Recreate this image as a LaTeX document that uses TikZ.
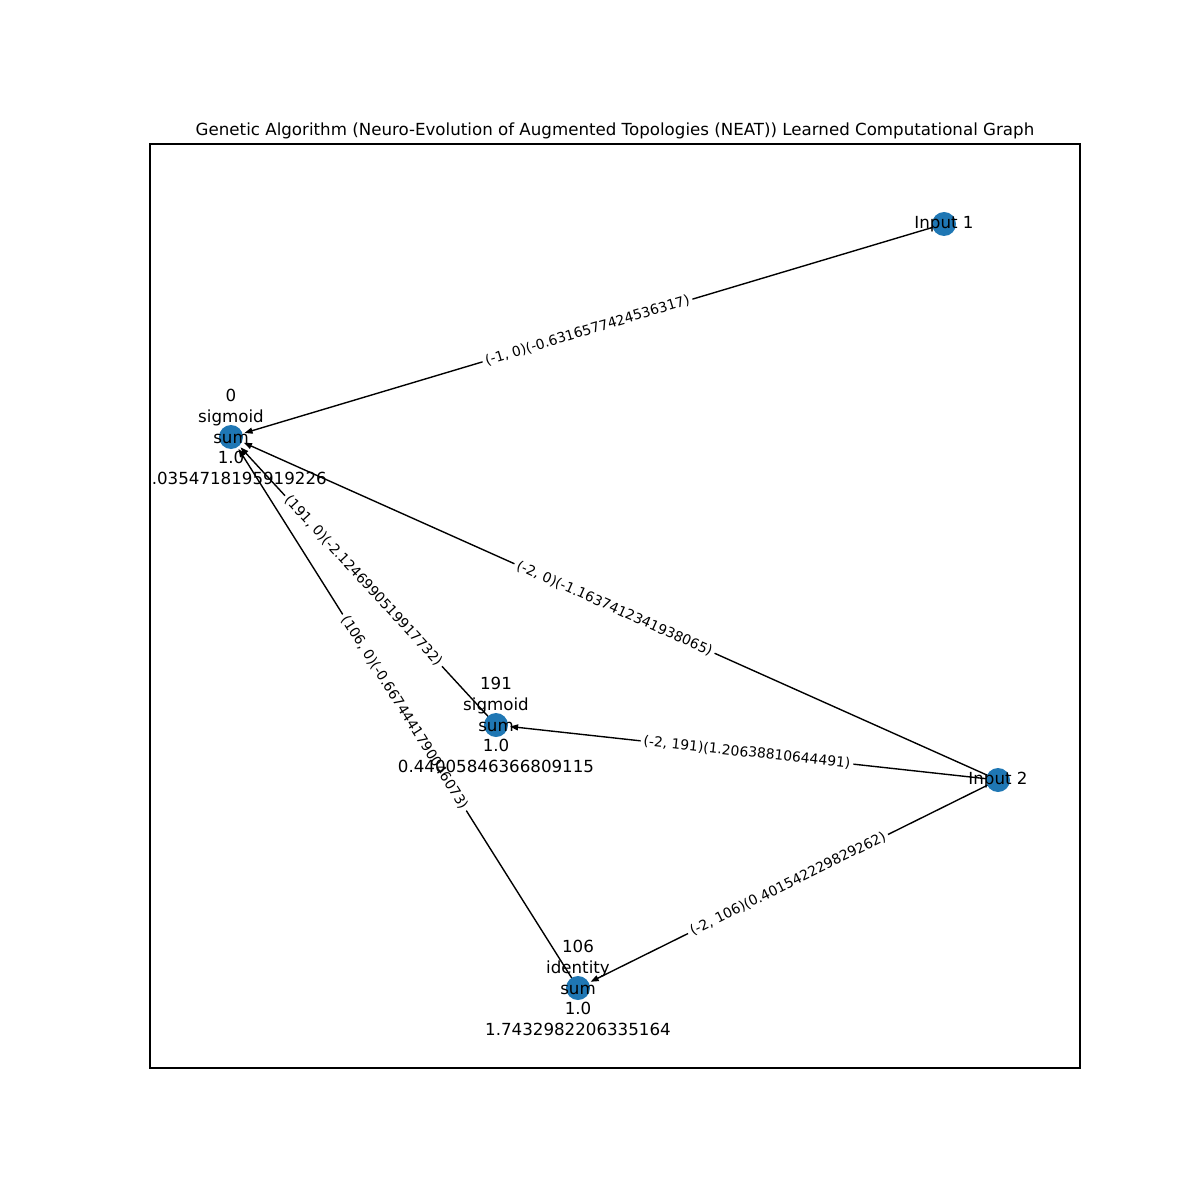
\documentclass[tikz,border=0pt]{standalone}
\usepackage{fontspec}
\setmainfont{DejaVu Sans}
\usetikzlibrary{arrows.meta}
\definecolor{nodeblue}{HTML}{1F77B4}
\pgfdeclarelayer{bg}
\pgfsetlayers{bg,main}
\begin{document}
\begin{tikzpicture}[x=0.72pt,y=-0.72pt,
  vertex/.style={circle, fill=nodeblue, minimum size=17.28pt, inner sep=0pt, outer sep=1.5pt},
  vlabel/.style={align=center, inner sep=0pt, font=\fontsize{12}{14.9}\selectfont},
  edge/.style={-{Triangle[length=5.8pt,width=4.3pt]}, line width=1pt},
  elabel/.style={fill=white, rounded corners=2pt, inner sep=2.2pt, font=\fontsize{10}{12}\selectfont, sloped, midway}]
\useasboundingbox (0,0) rectangle (1200,1200);
\draw[line width=0.8pt] (150,144) rectangle (1080,1068);
\node[anchor=base, inner sep=0pt, font=\fontsize{12}{14.4}\selectfont] (title) at (615,136) {Genetic Algorithm (Neuro-Evolution of Augmented Topologies (NEAT)) Learned Computational Graph};
% vertices
\node[vertex] (n0) at (231,437) {};
\node[vertex] (n191) at (496,725) {};
\node[vertex] (n106) at (578,988) {};
\node[vertex] (in1) at (944,224) {};
\node[vertex] (in2) at (998,780) {};
% edges
\begin{pgfonlayer}{bg}
\draw[edge] (in1.center) -- (n0);
\draw[edge] (in2.center) -- (n0);
\draw[edge] (n191.center) -- (n0);
\draw[edge] (n106.center) -- (n0);
\draw[edge] (in2.center) -- (n191);
\draw[edge] (in2.center) -- (n106);
\path (in1.center) -- (n0.center) node[elabel] (e1) {(-1, 0)(-0.6316577424536317)};
\path (in2.center) -- (n0.center) node[elabel] (e2) {(-2, 0)(-1.1637412341938065)};
\path (n191.center) -- (n0.center) node[elabel] (e3) {(191, 0)(-2.1246990519917732)};
\path (n106.center) -- (n0.center) node[elabel] (e4) {(106, 0)(-0.6674441790046073)};
\path (in2.center) -- (n191.center) node[elabel] (e5) {(-2, 191)(1.20638810644491)};
\path (in2.center) -- (n106.center) node[elabel] (e6) {(-2, 106)(0.401542229829262)};
\end{pgfonlayer}
% vertex labels
\node[vlabel] (l0) at (231,437) {0\\sigmoid\\sum\\1.0\\\phantom{-0}.0354718195919226};
\node[vlabel] (l191) at (496,725) {191\\sigmoid\\sum\\1.0\\0.44005846366809115};
\node[vlabel] (l106) at (578,988) {106\\identity\\sum\\1.0\\1.7432982206335164};
\node[vlabel] (lin1) at (944,224) {Input 1};
\node[vlabel] (lin2) at (998,780) {Input 2};
\end{tikzpicture}
\end{document}
